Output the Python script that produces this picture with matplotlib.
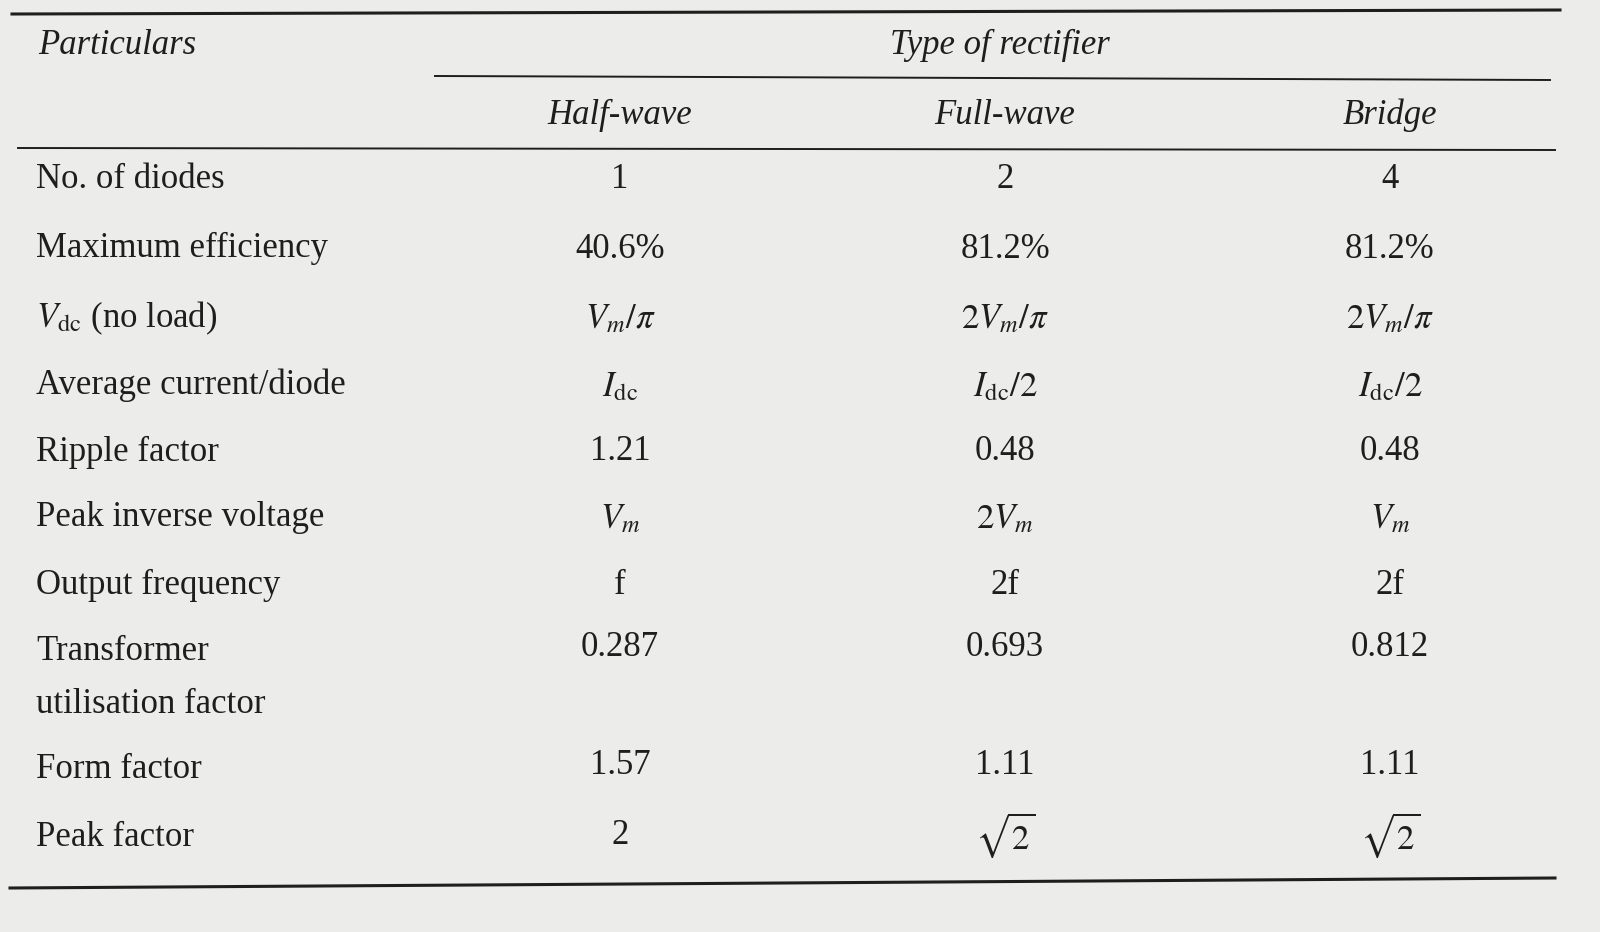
import matplotlib.pyplot as plt

plt.rcParams["font.family"] = ["Liberation Serif", "DejaVu Serif"]
plt.rcParams["mathtext.fontset"] = "stix"

particulars = ["No. of diodes", "Maximum efficiency", r"$V_{\rm dc}$ (no load)",
               "Average current/diode", "Ripple factor", "Peak inverse voltage",
               "Output frequency", "Transformer\nutilisation factor",
               "Form factor", "Peak factor"]
half_wave = ["1", "40.6%", r"$V_m/\pi$", r"$I_{\rm dc}$", "1.21", r"$V_m$",
             "f", "0.287", "1.57", "2"]
full_wave = ["2", "81.2%", r"$2V_m/\pi$", r"$I_{\rm dc}/2$", "0.48", r"$2V_m$",
             "2f", "0.693", "1.11", r"$\sqrt{2}$"]
bridge = ["4", "81.2%", r"$2V_m/\pi$", r"$I_{\rm dc}/2$", "0.48", r"$V_m$",
          "2f", "0.812", "1.11", r"$\sqrt{2}$"]
col_heads = ["Half-wave", "Full-wave", "Bridge"]

row_y = [180, 248, 318, 385, 452, 518, 585, 678, 770, 838]
value_y = [180, 250, 320, 388, 452, 520, 585, 648, 765, 835]
col_x = [620, 1005, 1390]
ink = "#1e1e1e"

fig = plt.figure(figsize=(16, 9.32), dpi=100, facecolor="#ececea")
ax = fig.add_axes([0, 0, 1, 1])
ax.set_xlim(0, 1600)
ax.set_ylim(932, 0)
ax.axis("off")

# rules
ax.plot([12, 1560], [14, 10], color=ink, lw=2.2)
ax.plot([435, 1550], [76, 80], color=ink, lw=1.4)
ax.plot([18, 1555], [148, 150], color=ink, lw=1.4)
ax.plot([10, 1555], [888, 878], color=ink, lw=2.2)

fs = 25
ax.text(38, 45, "Particulars", fontsize=fs, style="italic", color=ink, va="center")
ax.text(1000, 45, "Type of rectifier", fontsize=fs, style="italic", color=ink,
        ha="center", va="center")
for x, h in zip(col_x, col_heads):
    ax.text(x, 115, h, fontsize=fs, style="italic", color=ink, ha="center", va="center")

for y, vy, p, a, b, c in zip(row_y, value_y, particulars, half_wave, full_wave, bridge):
    ax.text(36, y, p, fontsize=fs, color=ink, va="center", linespacing=1.8)
    for x, v in zip(col_x, (a, b, c)):
        ax.text(x, vy, v, fontsize=fs, color=ink, ha="center", va="center")

fig.savefig("out.png", dpi=100, facecolor=fig.get_facecolor())
